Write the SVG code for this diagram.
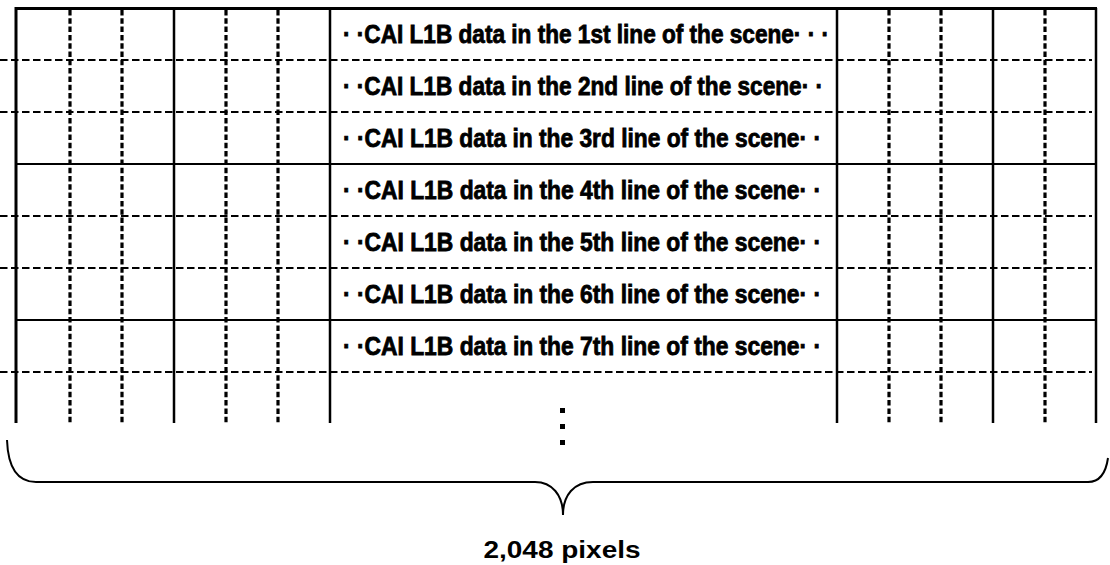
<svg xmlns="http://www.w3.org/2000/svg" width="1110" height="565" viewBox="0 0 1110 565">
<style>
.solid{stroke:#000;stroke-width:2.5;fill:none}
.solidh{stroke:#000;stroke-width:2;fill:none}
.dv{stroke:#000;stroke-width:3.2;stroke-dasharray:5.5 2.8;fill:none}
.dh{stroke:#000;stroke-width:2.2;stroke-dasharray:7.5 3.5;fill:none}
.row{font-family:"Liberation Sans",Arial,sans-serif;font-weight:bold;font-size:25px;fill:#000;stroke:#000;stroke-width:0.8}
.lbl{font-family:"Liberation Sans",Arial,sans-serif;font-weight:bold;font-size:23px;fill:#000}
.brace{stroke:#000;stroke-width:2;fill:none}
</style>
<rect width="1110" height="565" fill="#fff"/>
<g id="grid">
<g id="dashed-h">
<line class="dh" x1="0" y1="60" x2="1092" y2="60"/>
<line class="dh" x1="0" y1="112" x2="1092" y2="112"/>
<line class="dh" x1="0" y1="216" x2="1092" y2="216"/>
<line class="dh" x1="0" y1="268" x2="1092" y2="268"/>
<line class="dh" x1="0" y1="372" x2="1092" y2="372"/>
</g>
<g id="dashed-v">
<line class="dv" x1="70" y1="10" x2="70" y2="423"/>
<line class="dv" x1="122" y1="10" x2="122" y2="423"/>
<line class="dv" x1="226" y1="10" x2="226" y2="423"/>
<line class="dv" x1="278" y1="10" x2="278" y2="423"/>
<line class="dv" x1="889" y1="10" x2="889" y2="423"/>
<line class="dv" x1="941" y1="10" x2="941" y2="423"/>
<line class="dv" x1="1045" y1="10" x2="1045" y2="423"/>
</g>
<g id="solid-h">
<line x1="15" y1="8.5" x2="1097" y2="8.5" stroke="#000" stroke-width="3"/>
<line class="solidh" x1="16" y1="164" x2="1096" y2="164"/>
<line class="solidh" x1="16" y1="320" x2="1096" y2="320"/>
</g>
<g id="solid-v">
<line x1="16" y1="7" x2="16" y2="423" stroke="#000" stroke-width="3"/>
<line class="solid" x1="174" y1="8" x2="174" y2="423"/>
<line class="solid" x1="330" y1="8" x2="330" y2="423"/>
<line class="solid" x1="837" y1="8" x2="837" y2="423"/>
<line class="solid" x1="993" y1="8" x2="993" y2="423"/>
<line class="solid" x1="1096" y1="8" x2="1096" y2="423"/>
</g>
</g>
<g id="rows">
<text class="row" x="343" y="43" textLength="486" lengthAdjust="spacingAndGlyphs">· ·CAI L1B data in the 1st line of the scene· · ·</text>
<text class="row" x="343" y="95" textLength="480" lengthAdjust="spacingAndGlyphs">· ·CAI L1B data in the 2nd line of the scene· ·</text>
<text class="row" x="343" y="147" textLength="478" lengthAdjust="spacingAndGlyphs">· ·CAI L1B data in the 3rd line of the scene· ·</text>
<text class="row" x="343" y="199" textLength="478" lengthAdjust="spacingAndGlyphs">· ·CAI L1B data in the 4th line of the scene· ·</text>
<text class="row" x="343" y="251" textLength="478" lengthAdjust="spacingAndGlyphs">· ·CAI L1B data in the 5th line of the scene· ·</text>
<text class="row" x="343" y="303" textLength="478" lengthAdjust="spacingAndGlyphs">· ·CAI L1B data in the 6th line of the scene· ·</text>
<text class="row" x="343" y="355" textLength="478" lengthAdjust="spacingAndGlyphs">· ·CAI L1B data in the 7th line of the scene· ·</text>
</g>
<g id="vdots" fill="#000">
<rect x="560" y="408" width="5" height="5"/>
<rect x="560" y="424" width="5" height="5"/>
<rect x="560" y="440" width="5" height="5"/>
</g>
<g id="brace">
<path class="brace" d="M7,440 C8,468 18,482 36,482 L535,482 C552,482 563,495 563,515 C563,495 574,482 593,482 L1088,482 C1100,482 1106,472 1108,458"/>
</g>
<g id="label">
<text class="lbl" x="562" y="558" text-anchor="middle" textLength="157" lengthAdjust="spacingAndGlyphs">2,048 pixels</text>
</g>
</svg>
